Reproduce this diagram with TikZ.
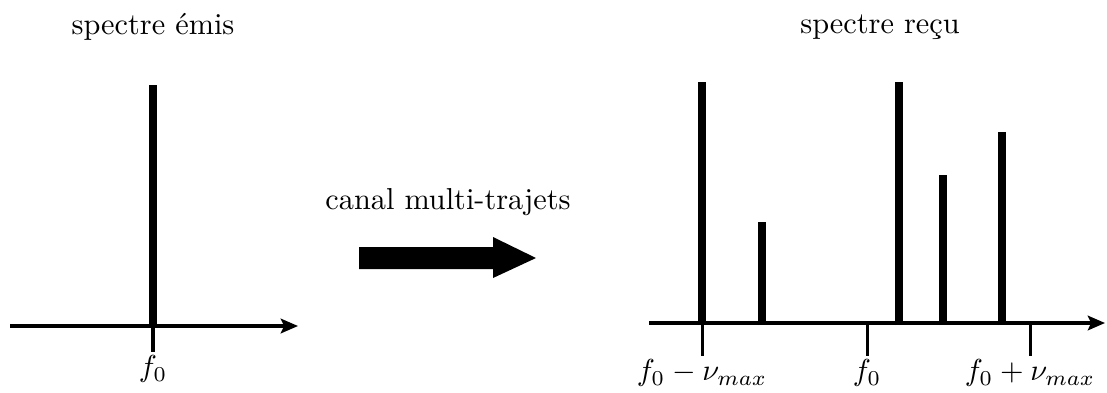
\documentclass[tikz,border=0pt]{standalone}
\usepackage{tikz}
\usetikzlibrary{arrows.meta}

\tikzset{
    axe/.style={line width=1pt, -{Stealth[length=0.2cm, width=0.17cm, inset=0.04cm]}},
    raie/.style={line width=2.6pt},
    graduation/.style={line width=1pt},
}

\begin{document}
\begin{tikzpicture}[x=1.16cm, y=1.16cm]
    \useasboundingbox (0,0) rectangle (11.07,3.92);
    
    % spectre emis
    \node (titreE) at (1.53, 3.65) {spectre émis};
    \draw[raie] (1.53, 0.66) -- (1.53, 3.07);
    \draw[axe] (0.10, 0.66) -- (2.98, 0.66);
    \coordinate (tE) at (1.53, 0.40);
    \draw[graduation] (1.53, 0.66) -- (tE);
    \node[below, inner sep=1pt] (fE) at (tE) {$f_0$};
    
    % canal
    \node (canal) at (4.48, 1.90) {canal multi-trajets};
    \fill (3.59, 1.23) -- (3.59, 1.45) -- (4.93, 1.45) -- (4.93, 1.55)
        -- (5.36, 1.34) -- (4.93, 1.14) -- (4.93, 1.23) -- cycle;
    
    % spectre recu
    \node (titreR) at (8.80, 3.65) {spectre reçu};
    \foreach \x/\h in {7.02/3.10, 7.62/1.70, 8.99/3.10, 9.43/2.17, 10.02/2.60} {
        \draw[raie] (\x, 0.67) -- (\x, \h);
    }
    \draw[axe] (6.49, 0.69) -- (11.05, 0.69);
    \foreach \x/\nom/\txt in {7.02/moins/{f_0-\nu_{max}}, 8.67/centre/{f_0}, 10.30/plus/{f_0+\nu_{max}}} {
        \coordinate (t\nom) at (\x, 0.36);
        \draw[graduation] (\x, 0.69) -- (t\nom);
        \node[below, inner sep=1pt] (f\nom) at (t\nom) {$\txt$};
    }
\end{tikzpicture}
\end{document}
